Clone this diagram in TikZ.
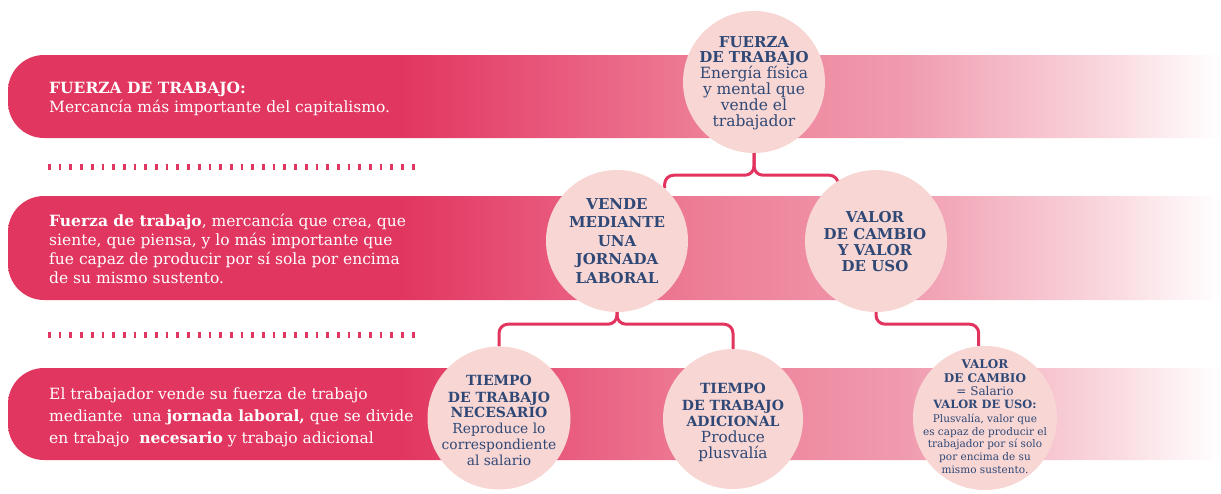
\documentclass[tikz,border=0pt]{standalone}
\usepackage{fontspec}
\setmainfont{DejaVu Serif}
\definecolor{pkA}{RGB}{225,54,95}
\definecolor{pkB}{RGB}{232,85,122}
\definecolor{pkC}{RGB}{237,125,150}
\definecolor{pkD}{RGB}{240,154,174}
\definecolor{pkE}{RGB}{249,213,220}
\definecolor{circfill}{RGB}{247,214,212}
\definecolor{navy}{RGB}{47,72,117}
\definecolor{conncol}{RGB}{226,52,94}
\pgfdeclarehorizontalshading{bannershade}{100bp}{color(0bp)=(pkA); color(25bp)=(pkA); color(41.2bp)=(pkA); color(46.9bp)=(pkB); color(53.5bp)=(pkC); color(61.8bp)=(pkD); color(70bp)=(pkE); color(75bp)=(white); color(100bp)=(white)}
\pgfdeclarelayer{banners}
\pgfdeclarelayer{conns}
\pgfsetlayers{banners,conns,main}
\newcommand\bannerpath[2]{(1221,#1) -- (44,#1) arc[start angle=-90,end angle=-180,radius=36] -- (8,#2-36) arc[start angle=180,end angle=90,radius=36] -- (1221,#2) -- cycle}
\begin{document}
\begin{tikzpicture}[x=1pt,y=-1pt,
  circ/.style={circle, fill=circfill, inner sep=0pt, minimum size=#1},
  conn/.style={draw=conncol, line width=3pt, rounded corners=9pt},
  dots/.style={draw=pkA, line width=6pt, dash pattern=on 2.7pt off 8pt},
  lt/.style={text=white, anchor=base west, inner sep=0pt, font=\fontsize{15.5}{19}\selectfont},
  cb/.style={text=navy, anchor=base, inner sep=0pt, font=\fontsize{#1}{#1}\selectfont\bfseries},
  cr/.style={text=navy, anchor=base, inner sep=0pt, font=\fontsize{#1}{#1}\selectfont},
]
\useasboundingbox (0,0) rectangle (1221,493);
% banners
\begin{pgfonlayer}{banners}
\shade[shading=bannershade] \bannerpath{55}{138};
\shade[shading=bannershade] \bannerpath{196}{300};
\shade[shading=bannershade] \bannerpath{368}{460};
\end{pgfonlayer}
% dotted separators
\coordinate (d1a) at (48,167); \coordinate (d1b) at (416,167);
\coordinate (d2a) at (48,335); \coordinate (d2b) at (416,335);
\draw[dots] (d1a) -- (d1b);
\draw[dots] (d2a) -- (d2b);
% circles
\node[circ=142pt] (c1) at (754,82) {};
\node[circ=142pt] (c2) at (617,241) {};
\node[circ=142pt] (c3) at (876,241) {};
\node[circ=143pt] (c4) at (499,418) {};
\node[circ=140pt] (c5) at (733,419) {};
\node[circ=144pt] (c6) at (985,418) {};
% connectors
\begin{pgfonlayer}{conns}
\draw[conn] (c1.south) -- ++(0,22) -| (c2.48);
\draw[conn] (c1.south) -- ++(0,22) -| (c3.122);
\draw[conn] (c2.south) -- ++(0,12) -| (c4.north);
\draw[conn] (c2.south) -- ++(0,12) -| (c5.north);
\draw[conn] (c3.south) -- ++(0,12) -| (c6.95);
\end{pgfonlayer}
% left texts
\node[lt] (t1a) at (49,93) {\bfseries FUERZA DE TRABAJO:};
\node[lt] (t1b) at (49,112) {Mercancía más importante del capitalismo.};
\node[lt] (t2a) at (49,226) {{\bfseries Fuerza de trabajo}, mercancía que crea, que};
\node[lt] (t2b) at (49,245) {siente, que piensa, y lo más importante que};
\node[lt] (t2c) at (49,264) {fue capaz de producir por sí sola por encima};
\node[lt] (t2d) at (49,283) {de su mismo sustento.};
\node[lt] (t3a) at (49,399) {El trabajador vende su fuerza de trabajo};
\node[lt] (t3b) at (49,421) {mediante\ \ una {\bfseries jornada laboral,} que se divide};
\node[lt] (t3c) at (49,443) {en trabajo\ \ {\bfseries necesario} y trabajo adicional};
% circle 1 text
\node[cb=15] (c1a) at (754,47) {FUERZA};
\node[cb=15] (c1b) at (754,62.5) {DE TRABAJO};
\node[cr=15.5] (c1c) at (754,78.5) {Energía física};
\node[cr=15.5] (c1d) at (754,94.5) {y mental que};
\node[cr=15.5] (c1e) at (754,110) {vende el};
\node[cr=15.5] (c1f) at (754,126) {trabajador};
% circle 2 text
\node[cb=15] (c2a) at (617,209) {VENDE};
\node[cb=15] (c2b) at (617,227.5) {MEDIANTE};
\node[cb=15] (c2c) at (617,246) {UNA};
\node[cb=15] (c2d) at (617,264.5) {JORNADA};
\node[cb=15] (c2e) at (617,283) {LABORAL};
% circle 3 text
\node[cb=15] (c3a) at (875,222) {VALOR};
\node[cb=15] (c3b) at (875,239) {DE CAMBIO};
\node[cb=15] (c3c) at (875,255) {Y VALOR};
\node[cb=15] (c3d) at (875,271) {DE USO};
% circle 4 text
\node[cb=14] (c4a) at (499,385) {TIEMPO};
\node[cb=14] (c4b) at (499,402) {DE TRABAJO};
\node[cb=14] (c4c) at (499,417) {NECESARIO};
\node[cr=13.8] (c4d) at (499,433) {Reproduce lo};
\node[cr=13.8] (c4e) at (499,449) {correspondiente};
\node[cr=13.8] (c4f) at (499,465) {al salario};
% circle 5 text
\node[cb=14] (c5a) at (733,393) {TIEMPO};
\node[cb=14] (c5b) at (733,410) {DE TRABAJO};
\node[cb=14] (c5c) at (733,426) {ADICIONAL};
\node[cr=15.3] (c5d) at (733,442) {Produce};
\node[cr=15.3] (c5e) at (733,458) {plusvalía};
% circle 6 text
\node[cb=12] (c6a) at (985,368) {VALOR};
\node[cb=12] (c6b) at (985,382) {DE CAMBIO};
\node[cr=12] (c6c) at (985,395) {= Salario};
\node[cb=11.4] (c6d) at (985,408) {VALOR DE USO:};
\node[cr=10.5] (c6e) at (985,422) {Plusvalía, valor que};
\node[cr=10.5] (c6f) at (985,435) {es capaz de producir el};
\node[cr=10.5] (c6g) at (985,447.5) {trabajador por sí solo};
\node[cr=10.5] (c6h) at (985,460) {por encima de su};
\node[cr=10.5] (c6i) at (985,473) {mismo sustento.};
\end{tikzpicture}
\end{document}
